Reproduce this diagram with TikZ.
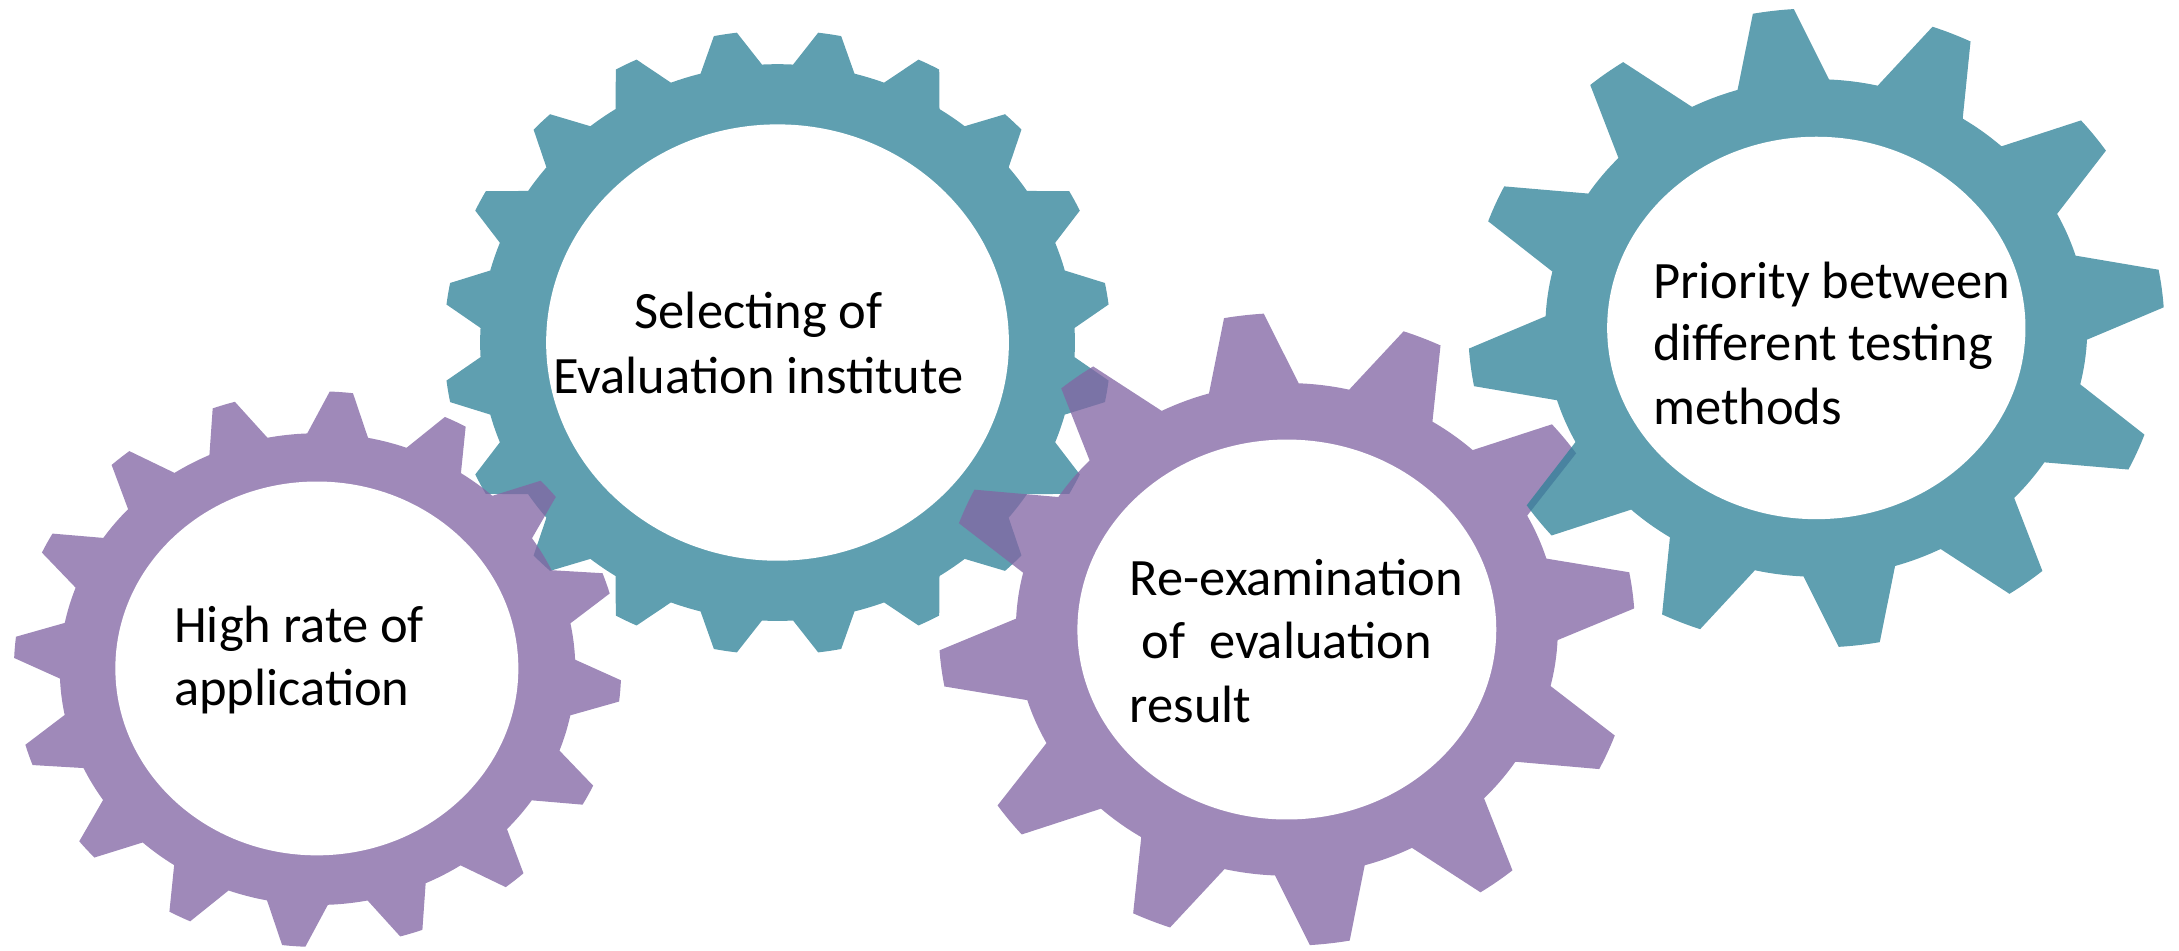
\documentclass[tikz,border=0pt]{standalone}
\usepackage{fontspec}
\setmainfont{Carlito}
\usetikzlibrary{shapes.geometric}
\definecolor{gearviolet}{RGB}{130,102,164}
\definecolor{gearteal}{RGB}{47,130,152}

% A gear outline around the origin: #1 style, #2 teeth, #3 angle of first tooth,
% #4 tip radius, #5 root radius, #6 half angle of a tooth tip, #7 half angle of a tooth base
\newcommand\cogwheel[7]{%
  \fill[#1] ({#3-#7}:#5)
  \foreach \k [evaluate=\k as \ta using #3+(\k-1)*360/#2-#7,
               evaluate=\k as \tb using #3+(\k-1)*360/#2-#6,
               evaluate=\k as \tc using #3+(\k-1)*360/#2+#6,
               evaluate=\k as \td using #3+(\k-1)*360/#2+#7,
               evaluate=\k as \te using #3+\k*360/#2-#7] in {1,...,#2}
  { -- (\ta:#5) -- (\tb:#4) arc[start angle=\tb, end angle=\tc, radius=#4]
    -- (\td:#5) arc[start angle=\td, end angle=\te, radius=#5] } -- cycle;
}

\begin{document}
\begin{tikzpicture}[
  violetgear/.style={fill=gearviolet, fill opacity=0.77},
  tealgear/.style={fill=gearteal, fill opacity=0.77},
  hub/.style={ellipse, fill=white, draw=none, inner sep=0pt},
  caption/.style={inner sep=0pt, font=\fontsize{10.75}{13}\selectfont, text=black}
]
\useasboundingbox (0,0) rectangle (15.68,6.84);

% upper middle gear
\begin{scope}[shift={(5.595,4.375)}, yscale=0.936]
  \cogwheel{tealgear}{20}{9}{2.40}{2.14}{2.0}{6.0}
\end{scope}
\node[hub, minimum width=3.33cm, minimum height=3.14cm] (hubB) at (5.595,4.375) {};

% lower left gear
\begin{scope}[shift={(2.285,2.025)}, yscale=0.915]
  \cogwheel{violetgear}{16}{-4.5}{2.185}{1.855}{2.2}{6.8}
\end{scope}
\node[hub, minimum width=2.90cm, minimum height=2.69cm] (hubA) at (2.28,2.03) {};

% lower right gear
\begin{scope}[shift={(9.26,2.311)}, yscale=0.909]
  \cogwheel{violetgear}{12}{97.1}{2.505}{1.95}{3.3}{9.6}
\end{scope}
\node[hub, minimum width=3.014cm, minimum height=2.734cm] (hubC) at (9.26,2.31) {};

% upper right gear
\begin{scope}[shift={(13.07,4.48)}, yscale=0.918]
  \cogwheel{tealgear}{12}{97.1}{2.505}{1.95}{3.4}{9.8}
\end{scope}
\node[hub, minimum width=3.01cm, minimum height=2.752cm] (hubD) at (13.07,4.48) {};

% captions
\node[caption, anchor=base west] (a1) at (1.247,2.219) {High rate of};
\node[caption, anchor=base west] (a2) at (1.247,1.761) {application};

\node[caption, anchor=base] (b1) at (5.459,4.475) {Selecting of};
\node[caption, anchor=base] (b2) at (5.459,4.007) {Evaluation institute};

\node[caption, anchor=base west] (c1) at (8.123,2.553) {Re-examination};
\node[caption, anchor=base west] (c2) at (8.123,2.100) {\ of\ \ evaluation};
\node[caption, anchor=base west] (c3) at (8.123,1.638) {result};

\node[caption, anchor=base west] (d1) at (11.889,4.693) {Priority between};
\node[caption, anchor=base west] (d2) at (11.889,4.244) {different testing};
\node[caption, anchor=base west] (d3) at (11.889,3.782) {methods};
\end{tikzpicture}
\end{document}
